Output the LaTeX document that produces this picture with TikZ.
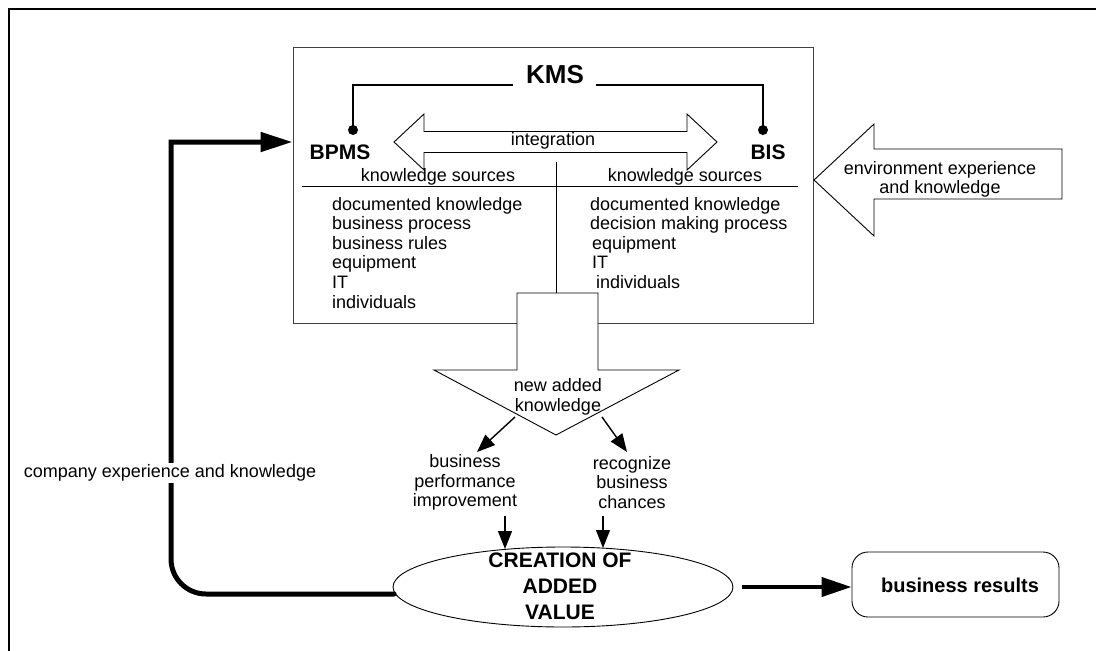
\documentclass[tikz,border=0pt]{standalone}
\usepackage{fontspec}
\setmainfont{Liberation Sans}
\usetikzlibrary{arrows.meta,shapes.geometric}
\begin{document}
\begin{tikzpicture}[x=1pt,y=-1pt,
  txt/.style={inner sep=0pt, font=\fontsize{18}{19.6}\selectfont},
  ctxt/.style={txt, align=center},
  item/.style={txt, anchor=base west},
  bold/.style={inner sep=0pt, font=\fontsize{#1}{#1}\selectfont\bfseries},
  thinline/.style={line width=1pt, draw=black},
  blockarrow/.style={line width=0.9pt, draw=black, fill=white, line join=miter},
  smallarrow/.style={line width=1.4pt, -{Triangle[length=18pt,width=14pt]}},
  bigarrow/.style={line width=4pt, -{Triangle[length=30pt,width=19pt]}},
  fbarrow/.style={line width=5pt, line cap=round, -{Triangle[length=32pt,width=19pt]}},
  dotstyle/.style={circle, fill=black, inner sep=0pt, minimum size=10pt}
]
\useasboundingbox (0,0) rectangle (1096,651);
% outer frame
\draw[line width=2pt] (9,651) -- (9,9) -- (1096,9);

% KMS box
\node[draw=black!75, line width=1pt, minimum width=520pt, minimum height=276pt, inner sep=0pt] (kms) at (553,185) {};

% KMS bracket
\node[bold=26] (kmst) at (555,75) {KMS};
\node[bold=21] (bpms) at (340,152) {BPMS};
\node[bold=21] (bis) at (768,152) {BIS};
\node[dotstyle] (dl) at (353,130) {};
\node[dotstyle] (dr) at (763,130) {};
\draw[line width=2pt] (dl.center) -- (353,85) -- ([xshift=-42pt]kmst.center |- 0,85);
\draw[line width=2pt] (dr.center) -- (763,85) -- ([xshift=41pt]kmst.center |- 0,85);

% integration double arrow
\draw[blockarrow] (394,142) -- (424,114) -- (424,131.5) -- (687,131.5) -- (687,114) -- (717,142)
  -- (687,170) -- (687,152.5) -- (424,152.5) -- (424,170) -- cycle;
\node[txt] (integ) at (553,141) {integration};

% knowledge sources
\draw[thinline] (302,186) -- (798,186);
\node[txt] (ksl) at (438,177) {knowledge sources};
\node[txt] (ksr) at (685,177) {knowledge sources};
\coordinate (vtop) at (556,162);

% left list
\node[item] (l1) at (332,210) {documented knowledge};
\node[item] (l2) at (332,229.6) {business process};
\node[item] (l3) at (332,249.2) {business rules};
\node[item] (l4) at (332,268.8) {equipment};
\node[item] (l5) at (332,288.4) {IT};
\node[item] (l6) at (332,308) {individuals};
% right list
\node[item] (r1) at (590,210) {documented knowledge};
\node[item] (r2) at (590,229.6) {decision making process};
\node[item] (r3) at (592,249.2) {equipment};
\node[item] (r4) at (592,268.8) {IT};
\node[item] (r5) at (596,288.4) {individuals};

% down arrow
\coordinate (dtop) at (556,293);
\draw[thinline] (vtop) -- (dtop);
\draw[blockarrow] (517,293) -- (598,293) -- (598,370) -- (679,370) -- (556,435) -- (434,370) -- (517,370) -- cycle;
\node[ctxt] (nak) at (558,397) {new added\\knowledge};

% environment arrow
\draw[blockarrow] (1062,149) -- (874,149) -- (874,124) -- (814,180) -- (874,236) -- (874,199) -- (1062,199) -- cycle;
\node[ctxt] (env) at (940,179.5) {environment experience\\and knowledge};

% branches
\node[ctxt] (bpi) at (465,482.5) {business\\performance\\improvement};
\node[ctxt] (rbc) at (632,482.5) {recognize\\business\\chances};
\coordinate (a1s) at (515,417);
\coordinate (a1e) at (477,452);
\coordinate (a2s) at (602,417);
\coordinate (a2e) at (627,452);
\draw[smallarrow] (a1s) -- (a1e);
\draw[smallarrow] (a2s) -- (a2e);

% creation of added value
\node[ellipse, draw, line width=0.9pt, minimum width=340pt, minimum height=80pt, inner sep=0pt] (cav) at (563,587) {};
\node[bold=21, align=center, font=\fontsize{21}{26}\selectfont\bfseries] (cavt) at (560,586) {CREATION OF\\ADDED\\VALUE};
\coordinate (v1s) at (505,516);
\coordinate (v2s) at (603,516);
\draw[smallarrow] (v1s) -- (v1s |- 0,549);
\draw[smallarrow] (v2s) -- (v2s |- 0,548);

% business results
\node[draw, line width=0.9pt, rounded corners=16pt, minimum width=207pt, minimum height=65pt, inner sep=0pt] (br) at (955.5,584.5) {};
\node[bold=20] (brt) at (960,585) {business results};
\coordinate (brs) at (742,587);
\draw[bigarrow] (brs) -- (br.west |- brs);

% feedback loop
\coordinate (fbs) at (394,594);
\coordinate (fbe) at (kms.west |- 0,142);
\draw[fbarrow] (fbs) -- (206,594) arc[start angle=90, end angle=180, radius=35] -- (171,142) -- (fbe);
\node[txt, fill=white, inner sep=2pt] (cek) at (170,473) {company experience and knowledge};
\end{tikzpicture}
\end{document}
